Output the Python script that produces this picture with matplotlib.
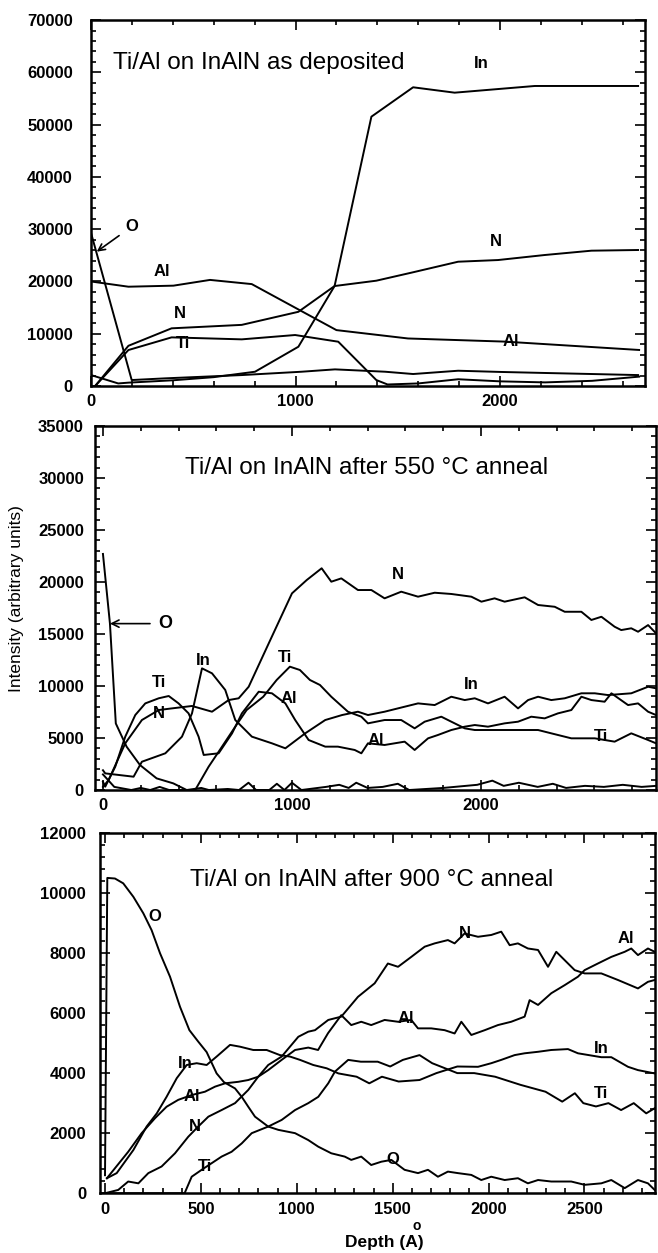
import matplotlib
matplotlib.use("Agg")
import matplotlib.pyplot as plt
from matplotlib.ticker import MultipleLocator

plt.rcParams['font.family'] = ['Liberation Sans', 'DejaVu Sans']

# ---- Ti/Al on InAlN, as deposited ----
d1_o = [0, 199, 362, 737, 1030, 1193, 1438, 1575, 1795, 2000, 2220, 2450, 2675]
o1 = [29300, 1150, 1470, 2100, 2740, 3190, 2740, 2300, 2930, 2700, 2500, 2300, 2100]
d1_al = [0, 183, 403, 582, 786, 1200, 1550, 2023, 2680]
al1 = [20000, 19000, 19200, 20300, 19500, 10700, 9100, 8500, 6900]
d1_n = [20, 183, 394, 737, 1014, 1191, 1395, 1566, 1795, 1990, 2218, 2447, 2675]
n1 = [0, 7700, 11040, 11700, 14200, 19130, 20150, 21680, 23780, 24100, 25060, 25890, 26020]
d1_ti = [20, 183, 394, 737, 998, 1209, 1395, 1450, 1600, 1795, 2000, 2220, 2450, 2680]
ti1 = [0, 6890, 9310, 8930, 9760, 8480, 1150, 300, 500, 1300, 900, 700, 1000, 1800]
d1_in = [0, 133, 183, 400, 600, 802, 1014, 1191, 1371, 1575, 1778, 2170, 2675]
in1 = [2100, 500, 650, 1100, 1700, 2740, 7520, 19130, 51520, 57140, 56110, 57390, 57390]

# ---- after 550 C anneal ----
d2_o = [0, 37, 68, 125, 196, 284, 372, 443, 520, 560, 660, 720, 770, 810, 880, 920, 960,
        1000, 1050, 1180, 1250, 1300, 1340, 1400, 1480, 1560, 1620, 1800, 1980, 2060, 2120,
        2200, 2300, 2380, 2450, 2550, 2650, 2750, 2850, 2926]
o2 = [22700, 16000, 6400, 4170, 2400, 1120, 640, 0, 200, 0, 100, 0, 700, 0, 0, 600, 0,
      700, 0, 300, 500, 200, 700, 200, 300, 600, 0, 200, 500, 900, 400,
      700, 300, 600, 200, 400, 300, 500, 300, 400]
d2_n = [0, 30, 118, 206, 295, 365, 471, 577, 665, 718, 771, 877, 1000, 1078, 1157, 1208,
        1261, 1349, 1420, 1490, 1578, 1667, 1755, 1843, 1949, 2002, 2072, 2125, 2231, 2302,
        2390, 2443, 2531, 2584, 2637, 2707, 2742, 2795, 2831, 2884, 2926]
n2 = [300, 960, 4490, 6730, 7690, 7850, 8080, 7530, 8650, 8820, 9930, 14100, 18910, 20190,
      21320, 20030, 20350, 19230, 19230, 18430, 19070, 18590, 18970, 18850, 18590, 18110,
      18430, 18110, 18530, 17790, 17620, 17140, 17140, 16350, 16660, 15700, 15380, 15550,
      15220, 15860, 15070]
d2_in = [0, 12, 162, 206, 330, 418, 471, 524, 577, 647, 700, 788, 894, 965, 1070, 1176,
         1265, 1349, 1402, 1490, 1596, 1667, 1755, 1843, 1914, 1967, 2037, 2125, 2196, 2249,
         2302, 2372, 2443, 2531, 2602, 2672, 2795, 2884, 2926]
in2 = [1900, 1600, 1280, 2720, 3530, 5130, 7370, 11700, 11220, 9620, 6730, 5130, 4490, 4010,
       5450, 6730, 7210, 7530, 7210, 7530, 8010, 8330, 8170, 8970, 8650, 8820, 8330, 8970,
       7850, 8650, 8970, 8650, 8820, 9300, 9300, 9130, 9300, 9930, 9780]
d2_al = [0, 12, 65, 118, 171, 224, 295, 348, 400, 453, 506, 533, 612, 683, 735, 824, 894,
         965, 1017, 1088, 1176, 1243, 1332, 1367, 1402, 1490, 1596, 1649, 1720, 1772, 1843,
         1914, 1967, 2037, 2125, 2196, 2266, 2337, 2407, 2478, 2531, 2584, 2654, 2690, 2778,
         2831, 2884, 2926]
al2 = [800, 320, 2240, 5130, 7210, 8330, 8820, 9040, 8330, 7370, 5130, 3370, 3530, 5450,
       7370, 9450, 9300, 8330, 6730, 4810, 4170, 4170, 3850, 3530, 4490, 4330, 4650, 3850,
       4970, 5290, 5770, 6090, 6250, 6090, 6410, 6570, 7050, 6890, 7370, 7690, 8970, 8650,
       8490, 9300, 8170, 8330, 7530, 7210]
d2_ti = [0, 60, 150, 200, 250, 300, 350, 488, 559, 612, 700, 760, 848, 919, 989, 1042, 1095,
         1148, 1208, 1296, 1367, 1402, 1490, 1578, 1649, 1702, 1790, 1843, 1914, 1967, 2125,
         2302, 2372, 2478, 2531, 2602, 2707, 2795, 2884, 2926]
ti2 = [1500, 300, 0, 200, 0, 300, 0, 0, 2240, 3680, 6090, 7690, 8970, 10580, 11860, 11540,
       10580, 10100, 8970, 7530, 7050, 6410, 6730, 6730, 5930, 6570, 7050, 6570, 5930, 5770,
       5770, 5770, 5450, 4970, 4970, 4970, 4650, 5450, 4810, 4490]

# ---- after 900 C anneal ----
d3_o = [0, 12, 52, 95, 148, 200, 243, 287, 339, 391, 440, 486, 530, 582, 620, 678, 713, 747,
        782, 851, 904, 991, 1060, 1112, 1180, 1250, 1284, 1336, 1388, 1441, 1493, 1562, 1632,
        1684, 1736, 1788, 1840, 1910, 1962, 2014, 2084, 2153, 2205, 2258, 2327, 2431, 2501,
        2588, 2640, 2710, 2779, 2831, 2866]
o3 = [600, 10500, 10480, 10320, 9870, 9320, 8760, 7990, 7210, 6210, 5430, 5050, 4700, 3990,
      3700, 3490, 3210, 2880, 2550, 2220, 2110, 2000, 1770, 1550, 1330, 1220, 1110, 1220, 940,
      1050, 1110, 780, 670, 780, 550, 720, 670, 610, 440, 550, 440, 500, 330, 440, 390, 390,
      280, 330, 440, 170, 440, 330, 110]
d3_n = [0, 69, 121, 174, 226, 295, 365, 434, 486, 539, 608, 678, 747, 799, 851, 921, 1008,
        1060, 1095, 1164, 1232, 1319, 1406, 1475, 1528, 1597, 1667, 1719, 1788, 1823, 1875,
        1945, 2014, 2066, 2110, 2153, 2205, 2258, 2310, 2353, 2397, 2449, 2501, 2588, 2675,
        2779, 2831, 2866]
n3 = [0, 110, 390, 330, 670, 890, 1330, 1880, 2220, 2550, 2770, 3000, 3440, 3880, 4270, 4550,
      5210, 5380, 5430, 5770, 5880, 6540, 6990, 7650, 7540, 7870, 8210, 8320, 8430, 8320,
      8650, 8540, 8600, 8710, 8260, 8320, 8150, 8100, 7540, 8040, 7760, 7430, 7320, 7320,
      7100, 6820, 7040, 7100]
d3_al = [10, 121, 191, 261, 321, 382, 452, 521, 574, 626, 695, 747, 799, 851, 921, 991, 1060,
         1111, 1163, 1232, 1284, 1336, 1388, 1458, 1528, 1597, 1632, 1701, 1771, 1823, 1858,
         1910, 1980, 2049, 2118, 2188, 2214, 2258, 2327, 2397, 2466, 2501, 2570, 2640, 2710,
         2744, 2779, 2831, 2866]
al3 = [500, 1380, 2000, 2500, 2880, 3110, 3270, 3380, 3550, 3660, 3710, 3770, 3880, 4100,
       4440, 4770, 4850, 4770, 5330, 5930, 5600, 5710, 5600, 5770, 5710, 5770, 5490, 5490,
       5430, 5320, 5710, 5270, 5430, 5600, 5710, 5880, 6430, 6270, 6660, 6930, 7210, 7430,
       7650, 7870, 8040, 8150, 7930, 8150, 8040]
d3_in = [10, 61, 148, 217, 270, 321, 374, 426, 478, 530, 582, 652, 704, 773, 843, 912, 965,
         1017, 1086, 1156, 1217, 1312, 1378, 1444, 1531, 1640, 1728, 1837, 1945, 2014, 2066,
         2136, 2188, 2258, 2327, 2414, 2466, 2588, 2640, 2727, 2779, 2866]
in3 = [500, 670, 1440, 2220, 2660, 3210, 3830, 4270, 4330, 4270, 4550, 4940, 4880, 4770,
       4770, 4600, 4550, 4440, 4270, 4160, 3990, 3880, 3660, 3880, 3720, 3770, 4000, 4220,
       4210, 4330, 4440, 4600, 4660, 4710, 4770, 4800, 4660, 4530, 4530, 4210, 4100, 3990]
d3_ti = [0, 415, 452, 504, 556, 608, 660, 713, 765, 851, 921, 991, 1060, 1112, 1164, 1199,
         1268, 1334, 1422, 1487, 1553, 1640, 1706, 1837, 1925, 2034, 2166, 2297, 2384, 2450,
         2494, 2560, 2625, 2691, 2757, 2822, 2866]
ti3 = [0, 0, 550, 780, 1000, 1220, 1380, 1660, 2000, 2220, 2440, 2770, 3000, 3210, 3660,
       4050, 4440, 4380, 4380, 4220, 4440, 4600, 4330, 4000, 4000, 3880, 3610, 3380, 3050,
       3330, 3000, 2890, 3000, 2770, 3000, 2660, 2830]

# element labels: (text, depth, intensity)
labels1 = [("In", 1906, 61700), ("N", 1982, 27600), ("Al", 2055, 8500), ("Al", 346, 21900),
           ("N", 435, 13900), ("Ti", 451, 8200)]
labels2 = [("Ti", 295, 10300), ("N", 295, 7400), ("In", 533, 12500), ("Ti", 965, 12700),
           ("Al", 981, 8800), ("N", 1561, 20700), ("In", 1949, 10100), ("Al", 1446, 4800),
           ("Ti", 2637, 5100)]
labels3 = [("O", 261, 9200), ("In", 417, 4330), ("Al", 452, 3210), ("N", 469, 2220),
           ("Ti", 521, 890), ("N", 1875, 8650), ("Al", 1571, 5820), ("Al", 2718, 8490),
           ("In", 2588, 4830), ("Ti", 2588, 3330), ("O", 1502, 1110)]

fig = plt.figure(figsize=(6.58, 12.53), dpi=100)

ax1 = fig.add_axes([0.1383, 0.6919, 0.842, 0.2921])
ax2 = fig.add_axes([0.1444, 0.3695, 0.8526, 0.2905])
ax3 = fig.add_axes([0.1520, 0.0477, 0.8435, 0.2876])


def style_axes(ax, xlim, ylim, xmaj, xmin, ymaj, ymin, ypad):
    ax.set_xlim(*xlim)
    ax.set_ylim(*ylim)
    ax.xaxis.set_major_locator(MultipleLocator(xmaj))
    ax.xaxis.set_minor_locator(MultipleLocator(xmin))
    ax.yaxis.set_major_locator(MultipleLocator(ymaj))
    ax.yaxis.set_minor_locator(MultipleLocator(ymin))
    ax.tick_params(which='both', direction='in', top=True, right=True, width=1.2)
    ax.tick_params(which='major', length=7)
    ax.tick_params(which='minor', length=3.5)
    ax.tick_params(axis='y', which='major', pad=ypad)
    ax.tick_params(axis='x', which='major', pad=6)
    for lab in ax.get_xticklabels() + ax.get_yticklabels():
        lab.set_fontsize(12)
        lab.set_fontweight('bold')
    for sp in ax.spines.values():
        sp.set_linewidth(1.8)


def put_labels(ax, labels):
    for txt, x, y in labels:
        ax.text(x, y, txt, fontsize=12, fontweight='bold', ha='center', va='center')


lw = 1.4

# panel 1
for d, v in [(d1_o, o1), (d1_al, al1), (d1_n, n1), (d1_ti, ti1), (d1_in, in1)]:
    ax1.plot(d, v, color='black', lw=lw)
style_axes(ax1, (0, 2709), (0, 70000), 1000, 200, 10000, 2000, 13)
ax1.text(0.04, 0.882, "Ti/Al on InAlN as deposited", transform=ax1.transAxes,
         fontsize=17.5, ha='left', va='center')
put_labels(ax1, labels1)
ax1.annotate("O", xy=(28, 25700), xytext=(199, 30500), fontsize=12, fontweight='bold',
             ha='center', va='center',
             arrowprops=dict(arrowstyle='->', color='black', lw=1.2, shrinkA=3, shrinkB=0))

# panel 2
for d, v in [(d2_o, o2), (d2_n, n2), (d2_in, in2), (d2_al, al2), (d2_ti, ti2)]:
    ax2.plot(d, v, color='black', lw=lw)
style_axes(ax2, (-42, 2926), (0, 35000), 1000, 200, 5000, 1000, 8)
ax2.text(0.16, 0.885, "Ti/Al on InAlN after 550 °C anneal", transform=ax2.transAxes,
         fontsize=17.5, ha='left', va='center')
put_labels(ax2, labels2)
ax2.annotate("O", xy=(37, 16000), xytext=(330, 16000), fontsize=13, fontweight='bold',
             ha='center', va='center',
             arrowprops=dict(arrowstyle='->', color='black', lw=1.2, shrinkA=4, shrinkB=0))

# panel 3
for d, v in [(d3_o, o3), (d3_n, n3), (d3_al, al3), (d3_in, in3), (d3_ti, ti3)]:
    ax3.plot(d, v, color='black', lw=lw)
style_axes(ax3, (-26, 2868), (0, 12000), 500, 100, 2000, 400, 10)
ax3.text(0.162, 0.87, "Ti/Al on InAlN after 900 °C anneal", transform=ax3.transAxes,
         fontsize=17.5, ha='left', va='center')
put_labels(ax3, labels3)

fig.text(17 / 658, 1 - 599 / 1253, "Intensity (arbitrary units)", rotation=90,
         fontsize=12.5, ha='center', va='center')
fig.text(384 / 658, 1 - 1243 / 1253, "Depth (A)", fontsize=12.5, fontweight='bold',
         ha='center', va='center')
fig.text(417 / 658, 1 - 1226 / 1253, "o", fontsize=10, fontweight='bold',
         ha='center', va='center')

fig.savefig("out.png", dpi=100)
